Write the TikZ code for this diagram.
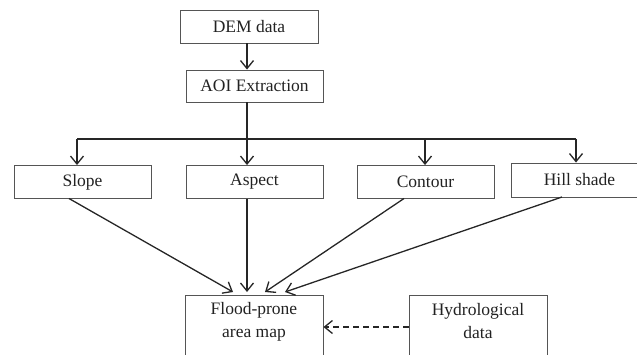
\documentclass[tikz,border=0pt]{standalone}
\usepackage{fontspec}
\setmainfont{Liberation Serif}
\usetikzlibrary{arrows.meta}
\definecolor{boxline}{HTML}{555555}
\definecolor{txt}{HTML}{222222}
\tikzset{
  box/.style={draw=boxline, line width=0.9pt, rectangle, minimum width=137pt, inner sep=0pt,
    font=\fontsize{17.5}{23}\selectfont, text=txt},
  plain/.style={inner sep=0pt, font=\fontsize{17.5}{23}\selectfont, text=txt, align=center},
  conn/.style={line width=1.3pt, draw=black!85},
  arr/.style={conn, -{Straight Barb[length=8pt,width=13pt,line width=1.3pt]}},
}
\begin{document}
\begin{tikzpicture}[x=1pt,y=-1pt]
\useasboundingbox (0,0) rectangle (637,354);
\clip (0,0) rectangle (637,354);
% boxes
\node[box, minimum width=138pt, minimum height=33pt] (dem) at (249,26.5) {DEM data};
\node[box, minimum height=32pt] (aoi) at (254.5,86) {AOI Extraction};
\node[box, minimum height=33pt] (slope) at (82.5,182) {Slope};
\node[box, minimum height=33pt] (aspect) at (254.5,182) {Aspect};
\node[box, minimum height=33pt] (contour) at (425.5,182) {Contour};
\node[box, minimum height=34pt] (hill) at (579.5,180) {Hill shade};
\node[box, minimum width=138pt, minimum height=70pt] (flood) at (254,330) {};
\node[plain] (floodtxt) at (254,321.5) {Flood-prone\\area map};
\node[box, minimum width=138pt, minimum height=70pt] (hydro) at (478,330) {};
\node[plain] (hydrotxt) at (478,321.5) {Hydrological\\data};
% connectors
\draw[arr] (dem.south -| 247,0) -- (aoi.north -| 247,0);
\coordinate (split) at (247,139);
\coordinate (jl) at (77,139);
\coordinate (jr) at (576,139);
\draw[conn] (aoi.south -| split) -- (split);
\draw[conn] (jl) -- (jr);
\draw[arr] (jl) -- (slope.north -| jl);
\draw[arr] (split) -- (aspect.north -| split);
\draw[arr] (425,139) -- (contour.north -| 425,0);
\draw[arr] (jr) -- (hill.north -| jr);
% into flood map
\coordinate (s1) at (69,198.5);
\coordinate (t1) at (233,292);
\coordinate (t2) at (247,292);
\coordinate (s3) at (404,198.5);
\coordinate (t3) at (265,292);
\coordinate (s4) at (562,197);
\coordinate (t4) at (285,292);
\draw[arr] (s1) -- (t1);
\draw[arr] (aspect.south -| t2) -- (t2);
\draw[arr] (s3) -- (t3);
\draw[arr] (s4) -- (t4);
\draw[arr, dashed, dash pattern=on 6pt off 4pt] (hydro.west |- 0,327) -- (flood.east |- 0,327);
\end{tikzpicture}
\end{document}
